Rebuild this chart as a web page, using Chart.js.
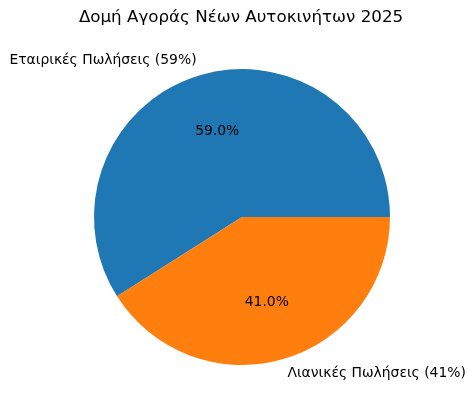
<!DOCTYPE html>
<html>
<head>
<meta charset="utf-8">
<script src="https://cdn.jsdelivr.net/npm/chart.js@4"></script>
<style>
html,body{margin:0;padding:0;background:#fff;}
#wrap{width:474px;height:412px;position:relative;}
</style>
</head>
<body>
<div id="wrap"><canvas id="c" width="474" height="412"></canvas></div>
<script>
const title = "Δομή Αγοράς Νέων Αυτοκινήτων 2025";
const categories = ["Εταιρικές Πωλήσεις (59%)", "Λιανικές Πωλήσεις (41%)"];
const values = [59, 41];
const colors = ["#1f77b4", "#ff7f0e"];

const total = values.reduce((a, b) => a + b, 0);
// matplotlib: start at 3 o'clock, counterclockwise -> Chart.js clockwise equivalent
const rotationDeg = 90 + (1 - values[0] / total) * 360;

const labelPlugin = {
  id: 'mplLabels',
  afterDraw(chart) {
    const ctx = chart.ctx;
    const meta = chart.getDatasetMeta(0);
    ctx.save();
    ctx.fillStyle = '#000';
    ctx.font = '16.7px "DejaVu Sans"';
    ctx.textAlign = 'center';
    ctx.textBaseline = 'middle';
    ctx.fillText(title, chart.width / 2 + 4, 18);
    meta.data.forEach((arc, i) => {
      const p = arc.getProps(['x', 'y', 'startAngle', 'endAngle', 'outerRadius'], true);
      const mid = (p.startAngle + p.endAngle) / 2;
      const c = Math.cos(mid), s = Math.sin(mid);
      ctx.font = '13.9px "DejaVu Sans"';
      ctx.textBaseline = 'middle';
      const lx = p.x + 1.1 * p.outerRadius * c;
      const ly = p.y + 1.1 * p.outerRadius * s;
      ctx.textAlign = lx < p.x ? 'right' : 'left';
      ctx.fillText(categories[i], lx, ly);
      const px = p.x + 0.6 * p.outerRadius * c;
      const py = p.y + 0.6 * p.outerRadius * s;
      ctx.textAlign = 'center';
      ctx.fillText((values[i] / total * 100).toFixed(1) + '%', px, py);
    });
    ctx.restore();
  }
};

new Chart(document.getElementById('c'), {
  type: 'pie',
  data: {
    labels: categories,
    datasets: [{ data: values, backgroundColor: colors, borderWidth: 0, hoverOffset: 0 }]
  },
  options: {
    responsive: false,
    animation: false,
    rotation: rotationDeg,
    layout: { padding: { top: 69, bottom: 47, left: 94, right: 84 } },
    plugins: { legend: { display: false }, title: { display: false }, tooltip: { enabled: false } }
  },
  plugins: [labelPlugin]
});
</script>
</body>
</html>
